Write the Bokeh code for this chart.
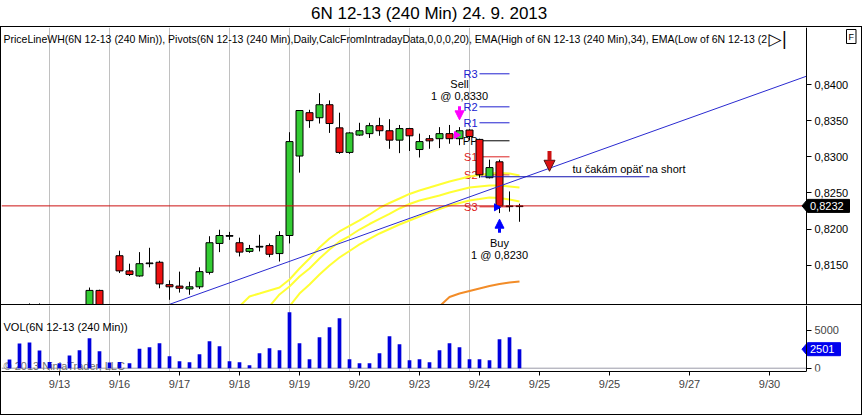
import math
from bokeh.plotting import figure
from bokeh.models import (Range1d, LinearAxis, FixedTicker, CustomJSTickFormatter, Span, Label,
                          Arrow, NormalHead)
from bokeh.layouts import column
from bokeh.embed import file_html
from bokeh.resources import INLINE
from bokeh.core.properties import value

FONT = "Liberation Sans"

# ---------------- data ----------------
title_text = "6N 12-13 (240 Min)  24. 9. 2013"
header_text = ("PriceLineWH(6N 12-13 (240 Min)), Pivots(6N 12-13 (240 Min),Daily,CalcFromIntradayData,0,0,0,20), "
               "EMA(High of 6N 12-13 (240 Min),34), EMA(Low of 6N 12-13 (2")
vol_title = "VOL(6N 12-13 (240 Min))"
copyright_text = "\u00a9 2013 NinjaTrader, LLC"

opens = [0.8085, 0.8088, 0.8090, 0.8093, 0.8088, 0.8086, 0.8089, 0.8087, 0.8090, 0.8115,
         0.8086, 0.8163, 0.8142, 0.8135, 0.8152, 0.8154, 0.8123, 0.8121, 0.8117, 0.8120,
         0.8140, 0.8180, 0.8191, 0.8181, 0.8169, 0.8175, 0.8177, 0.8166, 0.8191, 0.8301,
         0.8361, 0.8354, 0.8372, 0.8340, 0.8306, 0.8330, 0.8332, 0.8343, 0.8336, 0.8323,
         0.8339, 0.8310, 0.8325, 0.8325, 0.8332, 0.8325, 0.8337, 0.8324, 0.8271, 0.8293,
         0.8232, 0.8231]
highs = [0.8092, 0.8094, 0.8097, 0.8097, 0.8094, 0.8093, 0.8094, 0.8094, 0.8119, 0.8116,
         0.8094, 0.8170, 0.8152, 0.8168, 0.8174, 0.8156, 0.8129, 0.8141, 0.8127, 0.8147,
         0.8190, 0.8199, 0.8196, 0.8188, 0.8178, 0.8192, 0.8180, 0.8197, 0.8334, 0.8364,
         0.8365, 0.8388, 0.8378, 0.8361, 0.8334, 0.8347, 0.8347, 0.8354, 0.8352, 0.8344,
         0.8340, 0.8332, 0.8330, 0.8341, 0.8344, 0.8341, 0.8338, 0.8325, 0.8296, 0.8296,
         0.8252, 0.8235]
lows = [0.8078, 0.8080, 0.8085, 0.8084, 0.8080, 0.8079, 0.8082, 0.8081, 0.8086, 0.8082,
        0.8079, 0.8139, 0.8135, 0.8134, 0.8147, 0.8118, 0.8102, 0.8112, 0.8109, 0.8117,
        0.8137, 0.8168, 0.8185, 0.8162, 0.8167, 0.8169, 0.8161, 0.8155, 0.8180, 0.8278,
        0.8340, 0.8346, 0.8333, 0.8304, 0.8304, 0.8329, 0.8326, 0.8329, 0.8311, 0.8305,
        0.8308, 0.8299, 0.8311, 0.8312, 0.8318, 0.8316, 0.8323, 0.8271, 0.8270, 0.8222,
        0.8224, 0.8210]
closes = [0.8088, 0.8090, 0.8093, 0.8088, 0.8086, 0.8089, 0.8087, 0.8090, 0.8115, 0.8086,
          0.8090, 0.8142, 0.8137, 0.8152, 0.8153, 0.8124, 0.8120, 0.8118, 0.8120, 0.8141,
          0.8181, 0.8191, 0.8190, 0.8168, 0.8173, 0.8176, 0.8165, 0.8191, 0.8321, 0.8364,
          0.8350, 0.8372, 0.8346, 0.8306, 0.8333, 0.8336, 0.8343, 0.8336, 0.8323, 0.8339,
          0.8329, 0.8321, 0.8322, 0.8332, 0.8325, 0.8336, 0.8328, 0.8275, 0.8285, 0.8232,
          0.8231, 0.8232]
volumes = [1145, 3250, 3380, 2330, 830, 650, 1670, 2370, 3950, 2240,
           750, 800, 640, 2550, 2760, 3290, 1580, 920, 790, 1840,
           3550, 2900, 920, 790, 400, 1970, 2630, 2370, 7370, 3290,
           1180, 4080, 5400, 6580, 1180, 660, 660, 1970, 4210, 3160,
           1050, 1180, 790, 2370, 3290, 2760, 1180, 1180, 1050, 3820,
           4080, 2501]

ema_high_x = list(range(23, 52))
ema_high = [0.8093, 0.81066, 0.81107, 0.81149, 0.81190, 0.81301, 0.81453, 0.81592, 0.81744, 0.81869,
            0.81966, 0.82042, 0.82118, 0.82201, 0.82291, 0.82360, 0.82422, 0.82485, 0.82533, 0.82574,
            0.82616, 0.82658, 0.82692, 0.82727, 0.82747, 0.82768, 0.82775, 0.82768, 0.82741]
ema_mid_x = list(range(26, 52))
ema_mid = [0.8093, 0.81094, 0.81204, 0.81343, 0.81453, 0.81592, 0.81716, 0.81827, 0.81903, 0.81993,
           0.82069, 0.82139, 0.82208, 0.82284, 0.82346, 0.82395, 0.82429, 0.82464, 0.82505, 0.82540,
           0.82574, 0.82588, 0.82602, 0.82602, 0.82588, 0.82574]
ema_low_x = list(range(28, 52))
ema_low = [0.8093, 0.81107, 0.81232, 0.81370, 0.81495, 0.81606, 0.81696, 0.81786, 0.81862, 0.81938,
           0.82000, 0.82062, 0.82118, 0.82173, 0.82229, 0.82277, 0.82326, 0.82360, 0.82395, 0.82415,
           0.82436, 0.82429, 0.82408, 0.82381]
ema_slow_x = list(range(43, 52))
ema_slow = [0.8093, 0.81059, 0.81107, 0.81142, 0.81177, 0.81211, 0.81239, 0.81260, 0.81274]

pivot_names = ["R3", "R2", "R1", "PP", "S1", "S2", "S3"]
pivot_values = [0.84148, 0.83691, 0.83470, 0.83221, 0.82999, 0.82750, 0.82307]
pivot_bar_start, pivot_bar_end = 47, 50

trend_x = [16.0, 79.7]
trend_y = [0.80957, 0.84115]
level_x = [47.1, 64.0]
level_y = 0.82723
note_x, note_y = 56.3, 0.82833
note_text = "tu \u010dak\u00e1m op\u00e4\u0165 na short"
note_arrow_x = 54.0
note_arrow_y = [0.83081, 0.82799]

trade_bars = [45, 49]
trade_prices = [0.8330, 0.8230]
trade_sides = ["Sell", "Buy"]
trade_arrow_tail = [0.83700, 0.81948]
trade_arrow_tip = [0.83511, 0.82136]

session_breaks = [4, 10, 16, 22, 28, 34, 40, 46]
tick_bars = [5, 11, 17, 23, 29, 35, 41, 47, 53, 60, 68, 76]
tick_labels = ["9/13", "9/16", "9/17", "9/18", "9/19", "9/20", "9/23", "9/24", "9/25", "9/25", "9/27", "9/30"]
price_ticks = [0.815, 0.820, 0.825, 0.830, 0.835, 0.840]
volume_ticks = [0, 5000]

# ---------------- derived / layout constants ----------------
bars = list(range(len(opens)))
body_top = [max(o, c) for o, c in zip(opens, closes)]
body_bot = [min(o, c) for o, c in zip(opens, closes)]
body_colors = []
for o, c in zip(opens, closes):
    if abs(c - o) <= 0.00011:
        body_colors.append("black")
    elif c > o:
        body_colors.append("#33cc33")
    else:
        body_colors.append("#ee1111")

W_IN = 860
PRICE_LO, PRICE_HI = 0.80955, 0.84789
FRAME_H1 = 277
PX = (PRICE_HI - PRICE_LO) / FRAME_H1
X_LO = -0.8
X_HI = X_LO + W_IN / 10.0
X_AXIS = 79.7            # bar coordinate where the price scale sits
VOL_LO, VOL_HI = -434, 8251
FRAME_H2 = 66
VPX = (VOL_HI - VOL_LO) / FRAME_H2
GRID = "#c0c0c0"

# ---------------- title ----------------
tf = figure(width=862, height=26, x_range=Range1d(0, 1), y_range=Range1d(0, 1),
            x_axis_type=None, y_axis_type=None, output_backend="svg", toolbar_location=None,
            min_border=0)
tf.outline_line_color = None
tf.add_layout(Label(x=0.5, y=0.5, text=title_text, text_align="center", text_baseline="middle",
                    text_font=FONT, text_font_size="17px", text_color="black"))

# ---------------- price panel ----------------
p1 = figure(width=W_IN, height=FRAME_H1, x_range=Range1d(X_LO, X_HI), y_range=Range1d(PRICE_LO, PRICE_HI),
            x_axis_type=None, y_axis_type=None, output_backend="svg", toolbar_location=None,
            min_border=0)
p1.outline_line_color = None

for b in session_breaks:
    p1.add_layout(Span(location=b, dimension="height", line_color=GRID, line_width=1, level="underlay"))

piv_colors = ["#2020d0"] * 3 + ["black"] + ["#dd2020"] * 3
p1.text(x=[pivot_bar_start - 0.2] * len(pivot_names), y=pivot_values, text=pivot_names,
        text_align="right", text_baseline="middle", text_color=piv_colors,
        text_font=value(FONT), text_font_size="11px")
p1.segment(x0=[pivot_bar_start] * len(pivot_values), y0=pivot_values,
           x1=[pivot_bar_end] * len(pivot_values), y1=pivot_values, line_color=piv_colors, line_width=1)

for xs, ys in [(ema_high_x, ema_high), (ema_mid_x, ema_mid), (ema_low_x, ema_low)]:
    p1.line(xs, ys, line_color="#ffff33", line_width=2)
p1.line(ema_slow_x, ema_slow, line_color="#f28c28", line_width=2)

p1.segment(x0=bars, y0=lows, x1=bars, y1=highs, line_color="black", line_width=1)
p1.vbar(x=bars, width=0.7, top=body_top, bottom=body_bot, fill_color=body_colors, line_color="black",
        line_width=1)

lc = closes[-1]
p1.line([X_LO, X_AXIS], [lc, lc], line_color="#cc1010", line_width=1)

p1.line(trend_x, trend_y, line_color="#2a2ad0", line_width=1)
p1.line(level_x, [level_y, level_y], line_color="#1010b0", line_width=1)
p1.text(x=[note_x], y=[note_y], text=[note_text], text_align="left", text_baseline="middle",
        text_font=value(FONT), text_font_size="11px", text_color="black")
p1.add_layout(Arrow(end=NormalHead(size=11, fill_color="#dd1111", line_color="#551111"),
                    x_start=note_arrow_x, y_start=note_arrow_y[0], x_end=note_arrow_x, y_end=note_arrow_y[1],
                    line_color="#cc1111", line_width=4))

arrow_colors = ["#ff00ff", "#0000ff"]
for bar, price, side, tail, tip, col in zip(trade_bars, trade_prices, trade_sides, trade_arrow_tail,
                                             trade_arrow_tip, arrow_colors):
    p1.add_layout(Arrow(end=NormalHead(size=9, fill_color=col, line_color=col),
                        x_start=bar, y_start=tail, x_end=bar, y_end=tip, line_color=col, line_width=3))
    price_txt = "1 @ " + f"{price:.4f}".replace(".", ",")
    if side == "Sell":
        y1, y2 = tail + 21.7 * PX, tail + 9.7 * PX
    else:
        y1, y2 = tail - 10.7 * PX, tail - 22.7 * PX
    p1.text(x=[bar, bar], y=[y1, y2], text=[side, price_txt], text_align="center", text_baseline="middle",
            text_font=value(FONT), text_font_size="11px", text_color="black")
    p1.scatter(x=[bar - 0.3], y=[price], marker="triangle", angle=-math.pi / 2, size=7,
               fill_color=col, line_color=col)

p1.add_layout(Label(x=X_LO + 0.2, y=PRICE_HI - 11 * PX, text=header_text, text_align="left",
                    text_baseline="middle", text_font=FONT, text_font_size="10.5px", text_color="black"))
p1.add_layout(Label(x=X_AXIS - 3.8, y=PRICE_HI - 11 * PX, text="\u25b7|", text_align="left",
                    text_baseline="middle", text_font="DejaVu Sans", text_font_size="17px",
                    text_color="black"))
p1.add_layout(Label(x=X_AXIS + 4.0, y=PRICE_HI - 9 * PX, text="F", text_align="left",
                    text_baseline="middle", text_font=FONT, text_font_size="9px", text_color="black",
                    background_fill_color="white", border_line_color="black", padding=2))

pax = LinearAxis(ticker=FixedTicker(ticks=price_ticks), fixed_location=X_AXIS,
                 formatter=CustomJSTickFormatter(code="return tick.toFixed(4).replace('.', ',');"),
                 axis_line_color="black", major_tick_line_color="black", major_tick_out=5, major_tick_in=0,
                 minor_tick_line_color=None, major_label_text_font=FONT, major_label_text_font_size="11px",
                 major_label_standoff=3, major_label_text_color="black")
p1.add_layout(pax, "right")

bh = 6.5 * PX
p1.patch(x=[X_AXIS - 0.45, X_AXIS + 0.1, X_AXIS + 4.3, X_AXIS + 4.3, X_AXIS + 0.1],
         y=[lc, lc + bh, lc + bh, lc - bh, lc - bh], fill_color="black", line_color="black")
p1.text(x=[X_AXIS + 0.35], y=[lc], text=[f"{lc:.4f}".replace(".", ",")], text_align="left",
        text_baseline="middle", text_font=value(FONT), text_font_size="11px", text_color="white")

# ---------------- volume panel ----------------
p2 = figure(width=W_IN, height=FRAME_H2 + 44, x_range=p1.x_range, y_range=Range1d(VOL_LO, VOL_HI),
            x_axis_type=None, y_axis_type=None, output_backend="svg", toolbar_location=None,
            min_border_left=0, min_border_right=0, min_border_top=0, min_border_bottom=44,
            styles={"border-top": "1px solid black"})
p2.outline_line_color = None
for b in session_breaks:
    p2.add_layout(Span(location=b, dimension="height", line_color=GRID, line_width=1, level="underlay"))
p2.line([X_LO, X_AXIS], [0, 0], line_color="#9a9aa8", line_width=1)

p2.text(x=[X_LO + 0.2], y=[VOL_HI - 60.7 * VPX], text=[copyright_text], text_align="left",
        text_baseline="middle", text_font=value(FONT), text_font_size="11px", text_color="#707070")
p2.text(x=[X_LO + 0.2], y=[VOL_HI - 21.7 * VPX], text=[vol_title], text_align="left",
        text_baseline="middle", text_font=value(FONT), text_font_size="11px", text_color="black")
p2.vbar(x=bars, width=0.37, top=volumes, bottom=0, fill_color="#0000dd", line_color=None)

vax = LinearAxis(ticker=FixedTicker(ticks=volume_ticks), fixed_location=X_AXIS, axis_line_color="black",
                 major_tick_line_color="black", major_tick_out=5, major_tick_in=0, minor_tick_line_color=None,
                 major_label_text_font=FONT, major_label_text_font_size="11px", major_label_standoff=3)
p2.add_layout(vax, "right")
xax = LinearAxis(ticker=FixedTicker(ticks=tick_bars), bounds=(X_LO, X_AXIS),
                 major_label_overrides={b: l for b, l in zip(tick_bars, tick_labels)},
                 axis_line_color="black", major_tick_line_color="black", major_tick_out=4, major_tick_in=0,
                 minor_tick_line_color=None, major_label_text_font=FONT, major_label_text_font_size="11px",
                 major_label_standoff=2)
p2.add_layout(xax, "below")

lv = volumes[-1]
vh = 6.5 * VPX
p2.patch(x=[X_AXIS - 0.45, X_AXIS + 0.1, X_AXIS + 3.4, X_AXIS + 3.4, X_AXIS + 0.1],
         y=[lv, lv + vh, lv + vh, lv - vh, lv - vh], fill_color="#0000ee", line_color="#0000ee")
p2.text(x=[X_AXIS + 0.35], y=[lv], text=[str(lv)], text_align="left", text_baseline="middle",
        text_font=value(FONT), text_font_size="11px", text_color="white")

framed = column(p1, p2, styles={"border": "1px solid black"})
layout = column(tf, framed)

open("out.html", "w").write(file_html(layout, INLINE, title="6N 12-13 (240 Min)"))
